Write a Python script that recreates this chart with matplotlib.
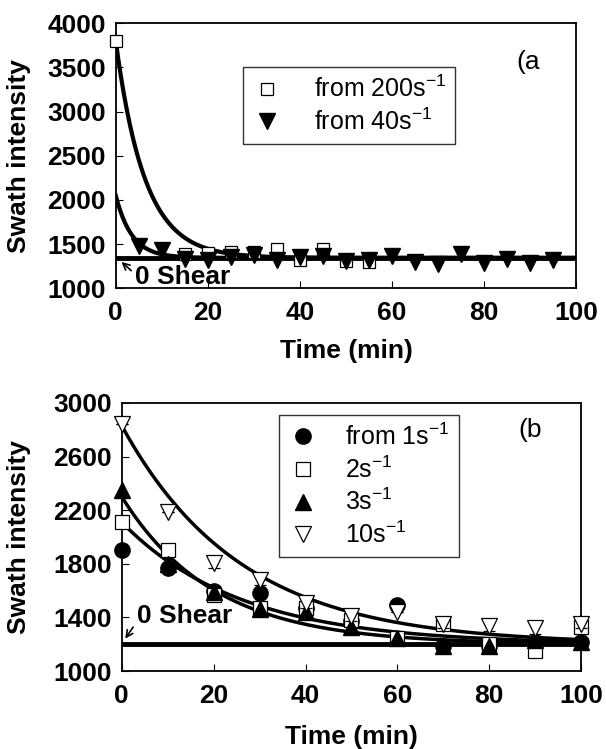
import numpy as np
import matplotlib
matplotlib.use("Agg")
import matplotlib.pyplot as plt

plt.rcParams['font.family'] = ['Liberation Sans', 'DejaVu Sans']
plt.rcParams['mathtext.fontset'] = 'custom'
plt.rcParams['mathtext.rm'] = 'Liberation Sans'

# ======================== data: panel (a) ========================
t_a_200 = [0, 15, 20, 25, 30, 35, 40, 45, 50, 55]
y_a_200 = [3800, 1385, 1400, 1415, 1415, 1440, 1320, 1440, 1310, 1300]

t_a_40 = [5, 10, 15, 20, 25, 30, 35, 40, 45, 50, 55, 60, 65, 70, 75, 80, 85, 90, 95]
y_a_40 = [1480, 1430, 1330, 1320, 1360, 1375, 1320, 1355, 1365, 1310, 1320,
          1365, 1300, 1275, 1385, 1290, 1335, 1290, 1320]

# exponential fits: base + amp * exp(-t / tau)
fit_a_200 = [1345, 2455, 6.3]
fit_a_40 = [1345, 705, 3.5]
base_a = 1345

# ======================== data: panel (b) ========================
t_b = [0, 10, 20, 30, 40, 50, 60, 70, 80, 90, 100]
y_b_1 = [1900, 1770, 1600, 1580, 1470, 1370, 1490, 1190, 1185, 1220, 1215]
y_b_2 = [2110, 1900, 1570, 1470, 1470, 1380, 1250, 1350, 1200, 1150, 1330]
y_b_3 = [2350, 1800, 1590, 1460, 1440, 1330, 1250, 1190, 1190, 1230, 1220]
y_b_10 = [2840, 2190, 1810, 1680, 1510, 1410, 1440, 1350, 1340, 1320, 1350]
err_b_10 = [0, 0, 40, 40, 40, 40, 0, 30, 40, 40, 30]

fit_b_2 = [1200, 910, 26.0]
fit_b_3 = [1200, 1100, 20.0]
fit_b_10 = [1200, 1630, 26.0]
base_b = 1200


def fit_curve(p, t):
    return p[0] + p[1] * np.exp(-t / p[2])


def style_axes(ax, yticks, ylab_x, xlab_y):
    ax.set_xlim(0, 100)
    ax.set_xticks([0, 20, 40, 60, 80, 100])
    ax.set_ylim(yticks[0], yticks[-1])
    ax.set_yticks(yticks)
    ax.tick_params(direction='in', length=5, width=0.8, labelsize=19)
    ax.tick_params(axis='x', pad=9)
    ax.tick_params(axis='y', pad=7)
    for lab in ax.get_xticklabels() + ax.get_yticklabels():
        lab.set_fontweight('bold')
    for sp in ax.spines.values():
        sp.set_linewidth(1.3)
    ax.set_xlabel('Time (min)', fontsize=19, fontweight='bold')
    ax.set_ylabel('Swath intensity', fontsize=19, fontweight='bold')
    ax.yaxis.set_label_coords(ylab_x, 0.5)
    ax.xaxis.set_label_coords(0.5, xlab_y)


fig = plt.figure(figsize=(6.06, 7.49), dpi=100)

# ---------------- panel (a) ----------------
ax = fig.add_axes([0.191, 0.615, 0.760, 0.354])
tt = np.linspace(0, 100, 400)
ax.plot(tt, fit_curve(fit_a_200, tt), 'k-', lw=3)
ax.plot(tt, fit_curve(fit_a_40, tt), 'k-', lw=3)
ax.axhline(base_a, color='k', lw=3.5)
ax.plot(t_a_200, y_a_200, 's', ms=9, mfc='white', mec='k', mew=0.9,
        label='from 200s$^{-1}$', clip_on=False, zorder=3)
ax.plot(t_a_40, y_a_40, 'v', ms=11, color='k',
        label='from 40s$^{-1}$', clip_on=False, zorder=4)
style_axes(ax, [1000, 1500, 2000, 2500, 3000, 3500, 4000], -0.185, -0.19)
leg = ax.legend(loc='upper left', bbox_to_anchor=(0.276, 0.834), fontsize=18,
                frameon=True, fancybox=False, edgecolor='k', handlelength=1.2,
                handletextpad=1.3, labelspacing=0.25, borderpad=0.35,
                borderaxespad=0)
leg.get_frame().set_linewidth(1.0)
ax.text(87, 3560, '(a', fontsize=19, ha='left', va='center')
ax.text(4.1, 1125, '0 Shear', fontsize=19, fontweight='bold', ha='left', va='center')
ax.annotate('', xy=(0.8, 1320), xytext=(3.8, 1180),
            arrowprops=dict(arrowstyle='->', color='k', lw=1.2, mutation_scale=12))

# ---------------- panel (b) ----------------
ax = fig.add_axes([0.201, 0.104, 0.758, 0.358])
ax.plot(tt, fit_curve(fit_b_10, tt), 'k-', lw=2.5)
ax.plot(tt, fit_curve(fit_b_3, tt), 'k-', lw=2.5)
ax.plot(tt, fit_curve(fit_b_2, tt), 'k-', lw=2.5)
ax.axhline(base_b, color='k', lw=3.5)
ax.plot(t_b, y_b_1, 'o', ms=11, color='k', label='from 1s$^{-1}$',
        clip_on=False, zorder=3)
ax.plot(t_b, y_b_2, 's', ms=10, mfc='white', mec='k', mew=0.9,
        label='2s$^{-1}$', clip_on=False, zorder=3)
ax.plot(t_b, y_b_3, '^', ms=11, color='k', label='3s$^{-1}$',
        clip_on=False, zorder=4)
ax.errorbar(t_b, y_b_10, yerr=err_b_10, fmt='v', ms=12, mfc='white', mec='k',
            mew=0.9, ecolor='k', elinewidth=0.8, capsize=4, capthick=0.8,
            label='10s$^{-1}$', clip_on=False, zorder=5)
style_axes(ax, [1000, 1400, 1800, 2200, 2600, 3000], -0.198, -0.20)
handles, labels = ax.get_legend_handles_labels()
handles[-1] = handles[-1][0]
leg = ax.legend(handles, labels, loc='upper left', bbox_to_anchor=(0.342, 0.955),
                fontsize=18, frameon=True, fancybox=False, edgecolor='k',
                handlelength=1.2, handletextpad=1.1, labelspacing=0.25,
                borderpad=0.35, borderaxespad=0)
leg.get_frame().set_linewidth(1.0)
ax.text(86.3, 2800, '(b', fontsize=19, ha='left', va='center')
ax.text(3.3, 1410, '0 Shear', fontsize=19, fontweight='bold', ha='left', va='center')
ax.annotate('', xy=(0.4, 1225), xytext=(2.8, 1345),
            arrowprops=dict(arrowstyle='->', color='k', lw=1.2, mutation_scale=12))

fig.savefig('out.png', dpi=100)
